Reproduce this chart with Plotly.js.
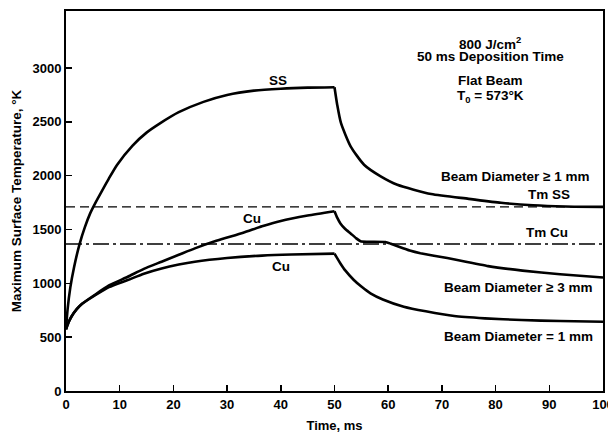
<!DOCTYPE html>
<html>
<head>
<meta charset="utf-8">
<script src="https://cdn.plot.ly/plotly-3.0.1.min.js"></script>
<style>
  html, body { margin: 0; padding: 0; background: #fff; }
  #chart { width: 608px; height: 436px; }
</style>
</head>
<body>
<div id="chart"></div>
<script>
// ---- Data (time in ms, temperature in °K) ----
const ssHeatT = [0, 0.3, 0.8, 1.5, 2.5, 3.5, 4.5, 5.5, 6.6, 8, 9.5, 12.4, 15, 17.5, 21, 25.6, 30, 35, 40, 45, 50];
const ssHeatK = [573, 760, 960, 1150, 1360, 1520, 1650, 1750, 1850, 1975, 2100, 2280, 2400, 2486, 2590, 2686, 2750, 2790, 2808, 2818, 2822];
const ssCoolT = [50, 50.5, 51.2, 53, 55.5, 58.6, 61.7, 68, 75, 81, 87, 93, 100];
const ssCoolK = [2822, 2660, 2490, 2273, 2102, 1994, 1916, 1830, 1785, 1748, 1725, 1714, 1710];

const cu3HeatT = [0, 0.5, 1, 2, 3, 5.3, 8, 11.5, 14.5, 17.8, 21, 24, 28, 33, 36.5, 40, 45, 50];
const cu3HeatK = [573, 640, 690, 760, 810, 891, 980, 1061, 1135, 1201, 1265, 1325, 1395, 1470, 1530, 1580, 1630, 1670];
const cu3CoolT = [50, 50.5, 51.1, 52, 53, 54, 55, 57, 59.5, 60.5, 62, 64, 66, 71, 78.6, 85, 92, 100];
const cu3CoolK = [1670, 1610, 1557, 1505, 1464, 1420, 1388, 1386, 1384, 1368, 1340, 1305, 1280, 1235, 1160, 1118, 1085, 1055];

const cu1HeatT = [0, 0.5, 1, 2, 3, 5.3, 8, 11.5, 14.5, 17.8, 21, 24, 30, 36.5, 42, 50];
const cu1HeatK = [573, 640, 690, 760, 810, 885, 965, 1031, 1090, 1139, 1175, 1201, 1235, 1258, 1268, 1276];
const cu1CoolT = [50, 50.3, 51.1, 52, 53.6, 55, 56.7, 59, 62.9, 67, 72.3, 78, 84.8, 92, 100];
const cu1CoolK = [1276, 1250, 1185, 1120, 1031, 970, 907, 850, 783, 740, 696, 675, 659, 650, 643];

const tmTimes = [0, 100];
const tmSS = 1710;
const tmCu = 1365;

const xTicks = [0, 10, 20, 30, 40, 50, 60, 70, 80, 90, 100];
const yTicks = [0, 500, 1000, 1500, 2000, 2500, 3000];

const FONT = 'Liberation Sans, Arial, Helvetica, sans-serif';
const curve = {color: '#000', width: 2.6, shape: 'spline', smoothing: 0.6};
const curveTight = {color: '#000', width: 2.6, shape: 'spline', smoothing: 0.3};

function seg(x, y, line) {
  return {x: x, y: y, type: 'scatter', mode: 'lines', line: line, hoverinfo: 'skip', showlegend: false};
}

const traces = [
  seg(tmTimes, [tmSS, tmSS], {color: '#000', width: 1.4, dash: '9px,5px'}),
  seg(tmTimes, [tmCu, tmCu], {color: '#000', width: 1.4, dash: '16px,4px,3px,4px'}),
  seg(ssHeatT, ssHeatK, curve),
  seg(ssCoolT, ssCoolK, curve),
  seg(cu3HeatT, cu3HeatK, curve),
  seg(cu3CoolT, cu3CoolK, curveTight),
  seg(cu1HeatT, cu1HeatK, curve),
  seg(cu1CoolT, cu1CoolK, curve)
];

function ann(text, x, y, xanchor) {
  return {text: text, x: x, y: y, xref: 'x', yref: 'y', showarrow: false,
          xanchor: xanchor || 'center', yanchor: 'middle',
          font: {family: FONT, size: 13.5, color: '#000', weight: 700}};
}

const annotations = [
  ann('800 J/cm<sup>2</sup>', 79, 3233),
  ann('50 ms Deposition Time', 79, 3103),
  ann('Flat Beam', 79, 2889),
  ann('T<sub>0</sub> = 573°K', 79, 2740),
  ann('SS', 39.4, 2889),
  ann('Cu', 34.7, 1607),
  ann('Cu', 40.0, 1161),
  ann('Beam Diameter ≥ 1 mm', 83.6, 1991),
  ann('Tm SS', 89.9, 1830),
  ann('Tm Cu', 89.5, 1477),
  ann('Beam Diameter ≥ 3 mm', 84.1, 961),
  ann('Beam Diameter = 1 mm', 84.2, 504)
];

const layout = {
  width: 608, height: 436,
  margin: {l: 66, r: 5, t: 11, b: 45},
  paper_bgcolor: '#fff', plot_bgcolor: '#fff',
  showlegend: false,
  font: {family: FONT, color: '#000'},
  xaxis: {
    range: [0, 100], tickvals: xTicks, ticktext: xTicks.map(String),
    ticks: 'inside', ticklen: 6, tickwidth: 1.5, tickcolor: '#000',
    ticklabeloverflow: 'allow',
    showline: true, linewidth: 2, linecolor: '#000', mirror: true,
    showgrid: false, zeroline: false, fixedrange: true,
    tickfont: {family: FONT, size: 13, color: '#000', weight: 700},
    title: {text: 'Time, ms', font: {family: FONT, size: 13, color: '#000', weight: 700}, standoff: 10}
  },
  yaxis: {
    range: [0, 3530], tickvals: yTicks, ticktext: yTicks.map(String),
    ticks: 'inside', ticklen: 6, tickwidth: 1.5, tickcolor: '#000',
    showline: true, linewidth: 2, linecolor: '#000', mirror: true,
    showgrid: false, zeroline: false, fixedrange: true,
    tickfont: {family: FONT, size: 13, color: '#000', weight: 700},
    title: {text: 'Maximum Surface Temperature, °K', font: {family: FONT, size: 13.5, color: '#000', weight: 700}, standoff: 8}
  },
  annotations: annotations
};

Plotly.newPlot('chart', traces, layout, {staticPlot: true, displayModeBar: false});
</script>
</body>
</html>
